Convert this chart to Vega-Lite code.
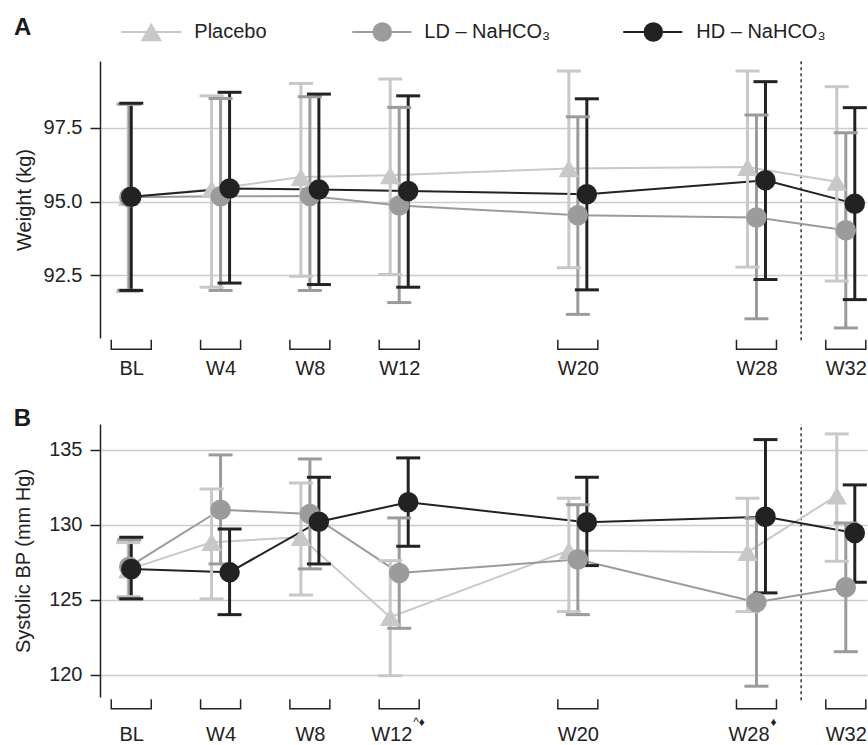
{
  "$schema": "https://vega.github.io/schema/vega-lite/v6.json",
  "padding": {"left": 13, "top": 16, "right": 0, "bottom": 0},
  "spacing": 29,
  "config": {
    "font": "Liberation Sans",
    "view": {"stroke": null},
    "axis": {"labelFontSize": 20, "labelColor": "#222", "titleFontSize": 20, "titleFontWeight": "normal", "titleColor": "#222", "domainColor": "#222", "domainWidth": 1.5, "tickColor": "#222", "tickWidth": 1.5, "tickSize": 10, "gridColor": "#cccccc", "gridWidth": 1.5, "labelPadding": 8},
    "axisX": {"domain": false, "ticks": false, "grid": false},
    "axisY": {"grid": true}
  },
  "datasets": {
    "weight": [
      {"group": "Placebo", "week": 0, "mean": 95.15, "lo": 91.95, "hi": 98.3},
      {"group": "LD – NaHCO₃", "week": 0, "mean": 95.15, "lo": 92.0, "hi": 98.3},
      {"group": "HD – NaHCO₃", "week": 0, "mean": 95.16, "lo": 91.99, "hi": 98.33},
      {"group": "Placebo", "week": 4, "mean": 95.42, "lo": 92.1, "hi": 98.58},
      {"group": "LD – NaHCO₃", "week": 4, "mean": 95.18, "lo": 91.99, "hi": 98.49},
      {"group": "HD – NaHCO₃", "week": 4, "mean": 95.44, "lo": 92.24, "hi": 98.7},
      {"group": "Placebo", "week": 8, "mean": 95.83, "lo": 92.47, "hi": 99.0},
      {"group": "LD – NaHCO₃", "week": 8, "mean": 95.19, "lo": 91.99, "hi": 98.55},
      {"group": "HD – NaHCO₃", "week": 8, "mean": 95.41, "lo": 92.19, "hi": 98.64},
      {"group": "Placebo", "week": 12, "mean": 95.89, "lo": 92.53, "hi": 99.15},
      {"group": "LD – NaHCO₃", "week": 12, "mean": 94.87, "lo": 91.58, "hi": 98.19},
      {"group": "HD – NaHCO₃", "week": 12, "mean": 95.36, "lo": 92.1, "hi": 98.58},
      {"group": "Placebo", "week": 20, "mean": 96.12, "lo": 92.76, "hi": 99.42},
      {"group": "LD – NaHCO₃", "week": 20, "mean": 94.54, "lo": 91.18, "hi": 97.87},
      {"group": "HD – NaHCO₃", "week": 20, "mean": 95.25, "lo": 92.01, "hi": 98.48},
      {"group": "Placebo", "week": 28, "mean": 96.17, "lo": 92.78, "hi": 99.42},
      {"group": "LD – NaHCO₃", "week": 28, "mean": 94.46, "lo": 91.03, "hi": 97.93},
      {"group": "HD – NaHCO₃", "week": 28, "mean": 95.72, "lo": 92.36, "hi": 99.06},
      {"group": "Placebo", "week": 32, "mean": 95.67, "lo": 92.31, "hi": 98.89},
      {"group": "LD – NaHCO₃", "week": 32, "mean": 94.03, "lo": 90.72, "hi": 97.33},
      {"group": "HD – NaHCO₃", "week": 32, "mean": 94.93, "lo": 91.68, "hi": 98.18}
    ],
    "sbp": [
      {"group": "Placebo", "week": 0, "mean": 127.0, "lo": 125.2, "hi": 128.8},
      {"group": "LD – NaHCO₃", "week": 0, "mean": 127.2, "lo": 125.1, "hi": 129.0},
      {"group": "HD – NaHCO₃", "week": 0, "mean": 127.05, "lo": 125.05, "hi": 129.16},
      {"group": "Placebo", "week": 4, "mean": 128.83, "lo": 125.05, "hi": 132.38},
      {"group": "LD – NaHCO₃", "week": 4, "mean": 131.0, "lo": 127.38, "hi": 134.65},
      {"group": "HD – NaHCO₃", "week": 4, "mean": 126.83, "lo": 124.0, "hi": 129.71},
      {"group": "Placebo", "week": 8, "mean": 129.16, "lo": 125.31, "hi": 132.78},
      {"group": "LD – NaHCO₃", "week": 8, "mean": 130.71, "lo": 127.05, "hi": 134.38},
      {"group": "HD – NaHCO₃", "week": 8, "mean": 130.2, "lo": 127.38, "hi": 133.16},
      {"group": "Placebo", "week": 12, "mean": 123.83, "lo": 119.93, "hi": 127.6, "note": "^♦"},
      {"group": "LD – NaHCO₃", "week": 12, "mean": 126.78, "lo": 123.09, "hi": 130.45},
      {"group": "HD – NaHCO₃", "week": 12, "mean": 131.49, "lo": 128.56, "hi": 134.45},
      {"group": "Placebo", "week": 20, "mean": 128.27, "lo": 124.2, "hi": 131.76},
      {"group": "LD – NaHCO₃", "week": 20, "mean": 127.67, "lo": 124.0, "hi": 131.33},
      {"group": "HD – NaHCO₃", "week": 20, "mean": 130.16, "lo": 127.27, "hi": 133.16},
      {"group": "Placebo", "week": 28, "mean": 128.16, "lo": 124.2, "hi": 131.76, "note": "♦"},
      {"group": "LD – NaHCO₃", "week": 28, "mean": 124.83, "lo": 119.23, "hi": 130.43},
      {"group": "HD – NaHCO₃", "week": 28, "mean": 130.53, "lo": 125.45, "hi": 135.67},
      {"group": "Placebo", "week": 32, "mean": 131.94, "lo": 127.56, "hi": 136.05},
      {"group": "LD – NaHCO₃", "week": 32, "mean": 125.82, "lo": 121.53, "hi": 130.11},
      {"group": "HD – NaHCO₃", "week": 32, "mean": 129.45, "lo": 126.16, "hi": 132.65}
    ]
  },
  "vconcat": [
    {
      "width": 767,
      "height": 277,
      "title": {"text": "A", "anchor": "start", "fontSize": 24, "fontWeight": "bold", "color": "#1a1a1a", "offset": -18},
      "data": {"name": "weight"},
      "encoding": {
        "x": {"field": "week", "type": "quantitative", "scale": {"domain": [-1.4, 32.95], "nice": false, "zero": false}, "axis": {"values": [0, 4, 8, 12, 20, 28, 32], "labelExpr": "datum.value == 0 ? 'BL' : 'W' + datum.value", "labelPadding": 20, "title": null, "labelFlush": false}},
        "y": {"field": "mean", "type": "quantitative", "scale": {"domain": [90.38, 99.76], "nice": false, "zero": false}, "axis": {"values": [92.5, 95, 97.5], "format": ".1f", "title": "Weight (kg)", "titlePadding": 9}},
        "color": {"field": "group", "type": "nominal", "scale": {"domain": ["Placebo", "LD – NaHCO₃", "HD – NaHCO₃"], "range": ["#c8c8c8", "#9b9b9b", "#222222"]}, "legend": null}
      },
      "layer": [
        {"transform": [{"filter": "datum.week == 0 && datum.group == 'Placebo'"}], "mark": {"type": "rule", "strokeDash": [3, 3], "strokeWidth": 1.5, "color": "#333"}, "encoding": {"x": {"datum": 30}, "y": {"datum": 90.3}, "y2": {"datum": 99.76}, "color": {"value": "#333"}}},
        {"mark": {"type": "line", "strokeWidth": 2, "xOffset": {"expr": "datum.week == 0 ? (datum.group == 'Placebo' ? -3 : (indexof(datum.group, 'LD') == 0 ? -2 : 0)) : (datum.group == 'Placebo' ? -9 : (indexof(datum.group, 'LD') == 0 ? 0 : 9))"}}},
        {"mark": {"type": "rule", "strokeWidth": 3, "xOffset": {"expr": "datum.week == 0 ? (datum.group == 'Placebo' ? -3 : (indexof(datum.group, 'LD') == 0 ? -2 : 0)) : (datum.group == 'Placebo' ? -9 : (indexof(datum.group, 'LD') == 0 ? 0 : 9))"}}, "encoding": {"y": {"field": "lo", "type": "quantitative"}, "y2": {"field": "hi"}}},
        {"mark": {"type": "tick", "orient": "horizontal", "size": 24, "thickness": 3, "opacity": 1, "xOffset": {"expr": "datum.week == 0 ? (datum.group == 'Placebo' ? -3 : (indexof(datum.group, 'LD') == 0 ? -2 : 0)) : (datum.group == 'Placebo' ? -9 : (indexof(datum.group, 'LD') == 0 ? 0 : 9))"}}, "encoding": {"y": {"field": "lo", "type": "quantitative"}}},
        {"mark": {"type": "tick", "orient": "horizontal", "size": 24, "thickness": 3, "opacity": 1, "xOffset": {"expr": "datum.week == 0 ? (datum.group == 'Placebo' ? -3 : (indexof(datum.group, 'LD') == 0 ? -2 : 0)) : (datum.group == 'Placebo' ? -9 : (indexof(datum.group, 'LD') == 0 ? 0 : 9))"}}, "encoding": {"y": {"field": "hi", "type": "quantitative"}}},
        {"transform": [{"filter": "datum.group == 'Placebo'"}], "mark": {"type": "point", "shape": "triangle-up", "filled": true, "size": 420, "opacity": 1, "xOffset": {"expr": "datum.week == 0 ? -3 : -9"}}},
        {"transform": [{"filter": "datum.group != 'Placebo'"}], "mark": {"type": "point", "shape": "circle", "filled": true, "size": 420, "opacity": 1, "xOffset": {"expr": "datum.week == 0 ? (indexof(datum.group, 'LD') == 0 ? -2 : 0) : (indexof(datum.group, 'LD') == 0 ? 0 : 9)"}}},
        {"transform": [{"filter": "datum.group == 'Placebo'"}], "mark": {"type": "point", "shape": "M-1,-0.47L-1,0L1,0L1,-0.47", "filled": false, "stroke": "#222", "strokeWidth": 1.5, "size": 1600, "opacity": 1}, "encoding": {"y": {"datum": 90.0}, "color": {"value": "#222"}}},
        {"transform": [{"filter": "datum.week == 0 && datum.group == 'Placebo'"}], "mark": {"type": "rule", "strokeWidth": 2}, "encoding": {"x": {"datum": -0.446}, "x2": {"datum": 2.241}, "y": {"datum": 100.742}}},
        {"transform": [{"filter": "datum.week == 0 && datum.group == 'Placebo'"}], "mark": {"type": "point", "shape": "triangle-up", "filled": true, "size": 460, "opacity": 1}, "encoding": {"x": {"datum": 0.897}, "y": {"datum": 100.742}}},
        {"transform": [{"filter": "datum.week == 0 && datum.group == 'Placebo'"}], "mark": {"type": "text", "align": "left", "baseline": "middle", "fontSize": 20}, "encoding": {"x": {"datum": 2.823}, "y": {"datum": 100.742}, "text": {"field": "group"}, "color": {"value": "#222"}}},
        {"transform": [{"filter": "datum.week == 0 && indexof(datum.group, 'LD') == 0"}], "mark": {"type": "rule", "strokeWidth": 2}, "encoding": {"x": {"datum": 9.898}, "x2": {"datum": 12.54}, "y": {"datum": 100.742}}},
        {"transform": [{"filter": "datum.week == 0 && indexof(datum.group, 'LD') == 0"}], "mark": {"type": "point", "shape": "circle", "filled": true, "size": 380, "opacity": 1}, "encoding": {"x": {"datum": 11.243}, "y": {"datum": 100.742}}},
        {"transform": [{"filter": "datum.week == 0 && indexof(datum.group, 'LD') == 0"}], "mark": {"type": "text", "align": "left", "baseline": "middle", "fontSize": 20}, "encoding": {"x": {"datum": 13.124}, "y": {"datum": 100.742}, "text": {"field": "group"}, "color": {"value": "#222"}}},
        {"transform": [{"filter": "datum.week == 0 && indexof(datum.group, 'HD') == 0"}], "mark": {"type": "rule", "strokeWidth": 2}, "encoding": {"x": {"datum": 22.034}, "x2": {"datum": 24.676}, "y": {"datum": 100.742}}},
        {"transform": [{"filter": "datum.week == 0 && indexof(datum.group, 'HD') == 0"}], "mark": {"type": "point", "shape": "circle", "filled": true, "size": 380, "opacity": 1}, "encoding": {"x": {"datum": 23.379}, "y": {"datum": 100.742}}},
        {"transform": [{"filter": "datum.week == 0 && indexof(datum.group, 'HD') == 0"}], "mark": {"type": "text", "align": "left", "baseline": "middle", "fontSize": 20}, "encoding": {"x": {"datum": 25.305}, "y": {"datum": 100.742}, "text": {"field": "group"}, "color": {"value": "#222"}}}
      ]
    },
    {
      "width": 767,
      "height": 273,
      "title": {"text": "B", "anchor": "start", "fontSize": 24, "fontWeight": "bold", "color": "#1a1a1a", "offset": -8},
      "data": {"name": "sbp"},
      "encoding": {
        "x": {"field": "week", "type": "quantitative", "scale": {"domain": [-1.4, 32.95], "nice": false, "zero": false}, "axis": {"values": [0, 4, 8, 12, 20, 28, 32], "labelExpr": "datum.value == 0 ? 'BL' : 'W' + datum.value", "labelPadding": 27, "labelOffset": {"condition": {"test": "datum.value == 12 || datum.value == 28", "value": -8}, "value": 0}, "title": null, "labelFlush": false}},
        "y": {"field": "mean", "type": "quantitative", "scale": {"domain": [118.51, 136.71], "nice": false, "zero": false}, "axis": {"values": [120, 125, 130, 135], "format": "d", "title": "Systolic BP (mm Hg)", "titlePadding": 15}},
        "color": {"field": "group", "type": "nominal", "scale": {"domain": ["Placebo", "LD – NaHCO₃", "HD – NaHCO₃"], "range": ["#c8c8c8", "#9b9b9b", "#222222"]}, "legend": null}
      },
      "layer": [
        {"transform": [{"filter": "datum.week == 0 && datum.group == 'Placebo'"}], "mark": {"type": "rule", "strokeDash": [3, 3], "strokeWidth": 1.5, "color": "#333"}, "encoding": {"x": {"datum": 30}, "y": {"datum": 118.3}, "y2": {"datum": 136.71}, "color": {"value": "#333"}}},
        {"mark": {"type": "line", "strokeWidth": 2, "xOffset": {"expr": "datum.week == 0 ? (datum.group == 'Placebo' ? -3 : (indexof(datum.group, 'LD') == 0 ? -2 : 0)) : (datum.group == 'Placebo' ? -9 : (indexof(datum.group, 'LD') == 0 ? 0 : 9))"}}},
        {"mark": {"type": "rule", "strokeWidth": 3, "xOffset": {"expr": "datum.week == 0 ? (datum.group == 'Placebo' ? -3 : (indexof(datum.group, 'LD') == 0 ? -2 : 0)) : (datum.group == 'Placebo' ? -9 : (indexof(datum.group, 'LD') == 0 ? 0 : 9))"}}, "encoding": {"y": {"field": "lo", "type": "quantitative"}, "y2": {"field": "hi"}}},
        {"mark": {"type": "tick", "orient": "horizontal", "size": 24, "thickness": 3, "opacity": 1, "xOffset": {"expr": "datum.week == 0 ? (datum.group == 'Placebo' ? -3 : (indexof(datum.group, 'LD') == 0 ? -2 : 0)) : (datum.group == 'Placebo' ? -9 : (indexof(datum.group, 'LD') == 0 ? 0 : 9))"}}, "encoding": {"y": {"field": "lo", "type": "quantitative"}}},
        {"mark": {"type": "tick", "orient": "horizontal", "size": 24, "thickness": 3, "opacity": 1, "xOffset": {"expr": "datum.week == 0 ? (datum.group == 'Placebo' ? -3 : (indexof(datum.group, 'LD') == 0 ? -2 : 0)) : (datum.group == 'Placebo' ? -9 : (indexof(datum.group, 'LD') == 0 ? 0 : 9))"}}, "encoding": {"y": {"field": "hi", "type": "quantitative"}}},
        {"transform": [{"filter": "datum.group == 'Placebo'"}], "mark": {"type": "point", "shape": "triangle-up", "filled": true, "size": 420, "opacity": 1, "xOffset": {"expr": "datum.week == 0 ? -3 : -9"}}},
        {"transform": [{"filter": "datum.group != 'Placebo'"}], "mark": {"type": "point", "shape": "circle", "filled": true, "size": 420, "opacity": 1, "xOffset": {"expr": "datum.week == 0 ? (indexof(datum.group, 'LD') == 0 ? -2 : 0) : (indexof(datum.group, 'LD') == 0 ? 0 : 9)"}}},
        {"transform": [{"filter": "datum.group == 'Placebo'"}], "mark": {"type": "point", "shape": "M-1,-0.47L-1,0L1,0L1,-0.47", "filled": false, "stroke": "#222", "strokeWidth": 1.5, "size": 1600, "opacity": 1}, "encoding": {"y": {"datum": 117.73}, "color": {"value": "#222"}}},
        {"transform": [{"filter": "isValid(datum.note)"}], "mark": {"type": "text", "align": "left", "baseline": "middle", "fontSize": 12, "dx": 14}, "encoding": {"y": {"datum": 116.86}, "text": {"field": "note"}, "color": {"value": "#222"}}}
      ]
    }
  ]
}
